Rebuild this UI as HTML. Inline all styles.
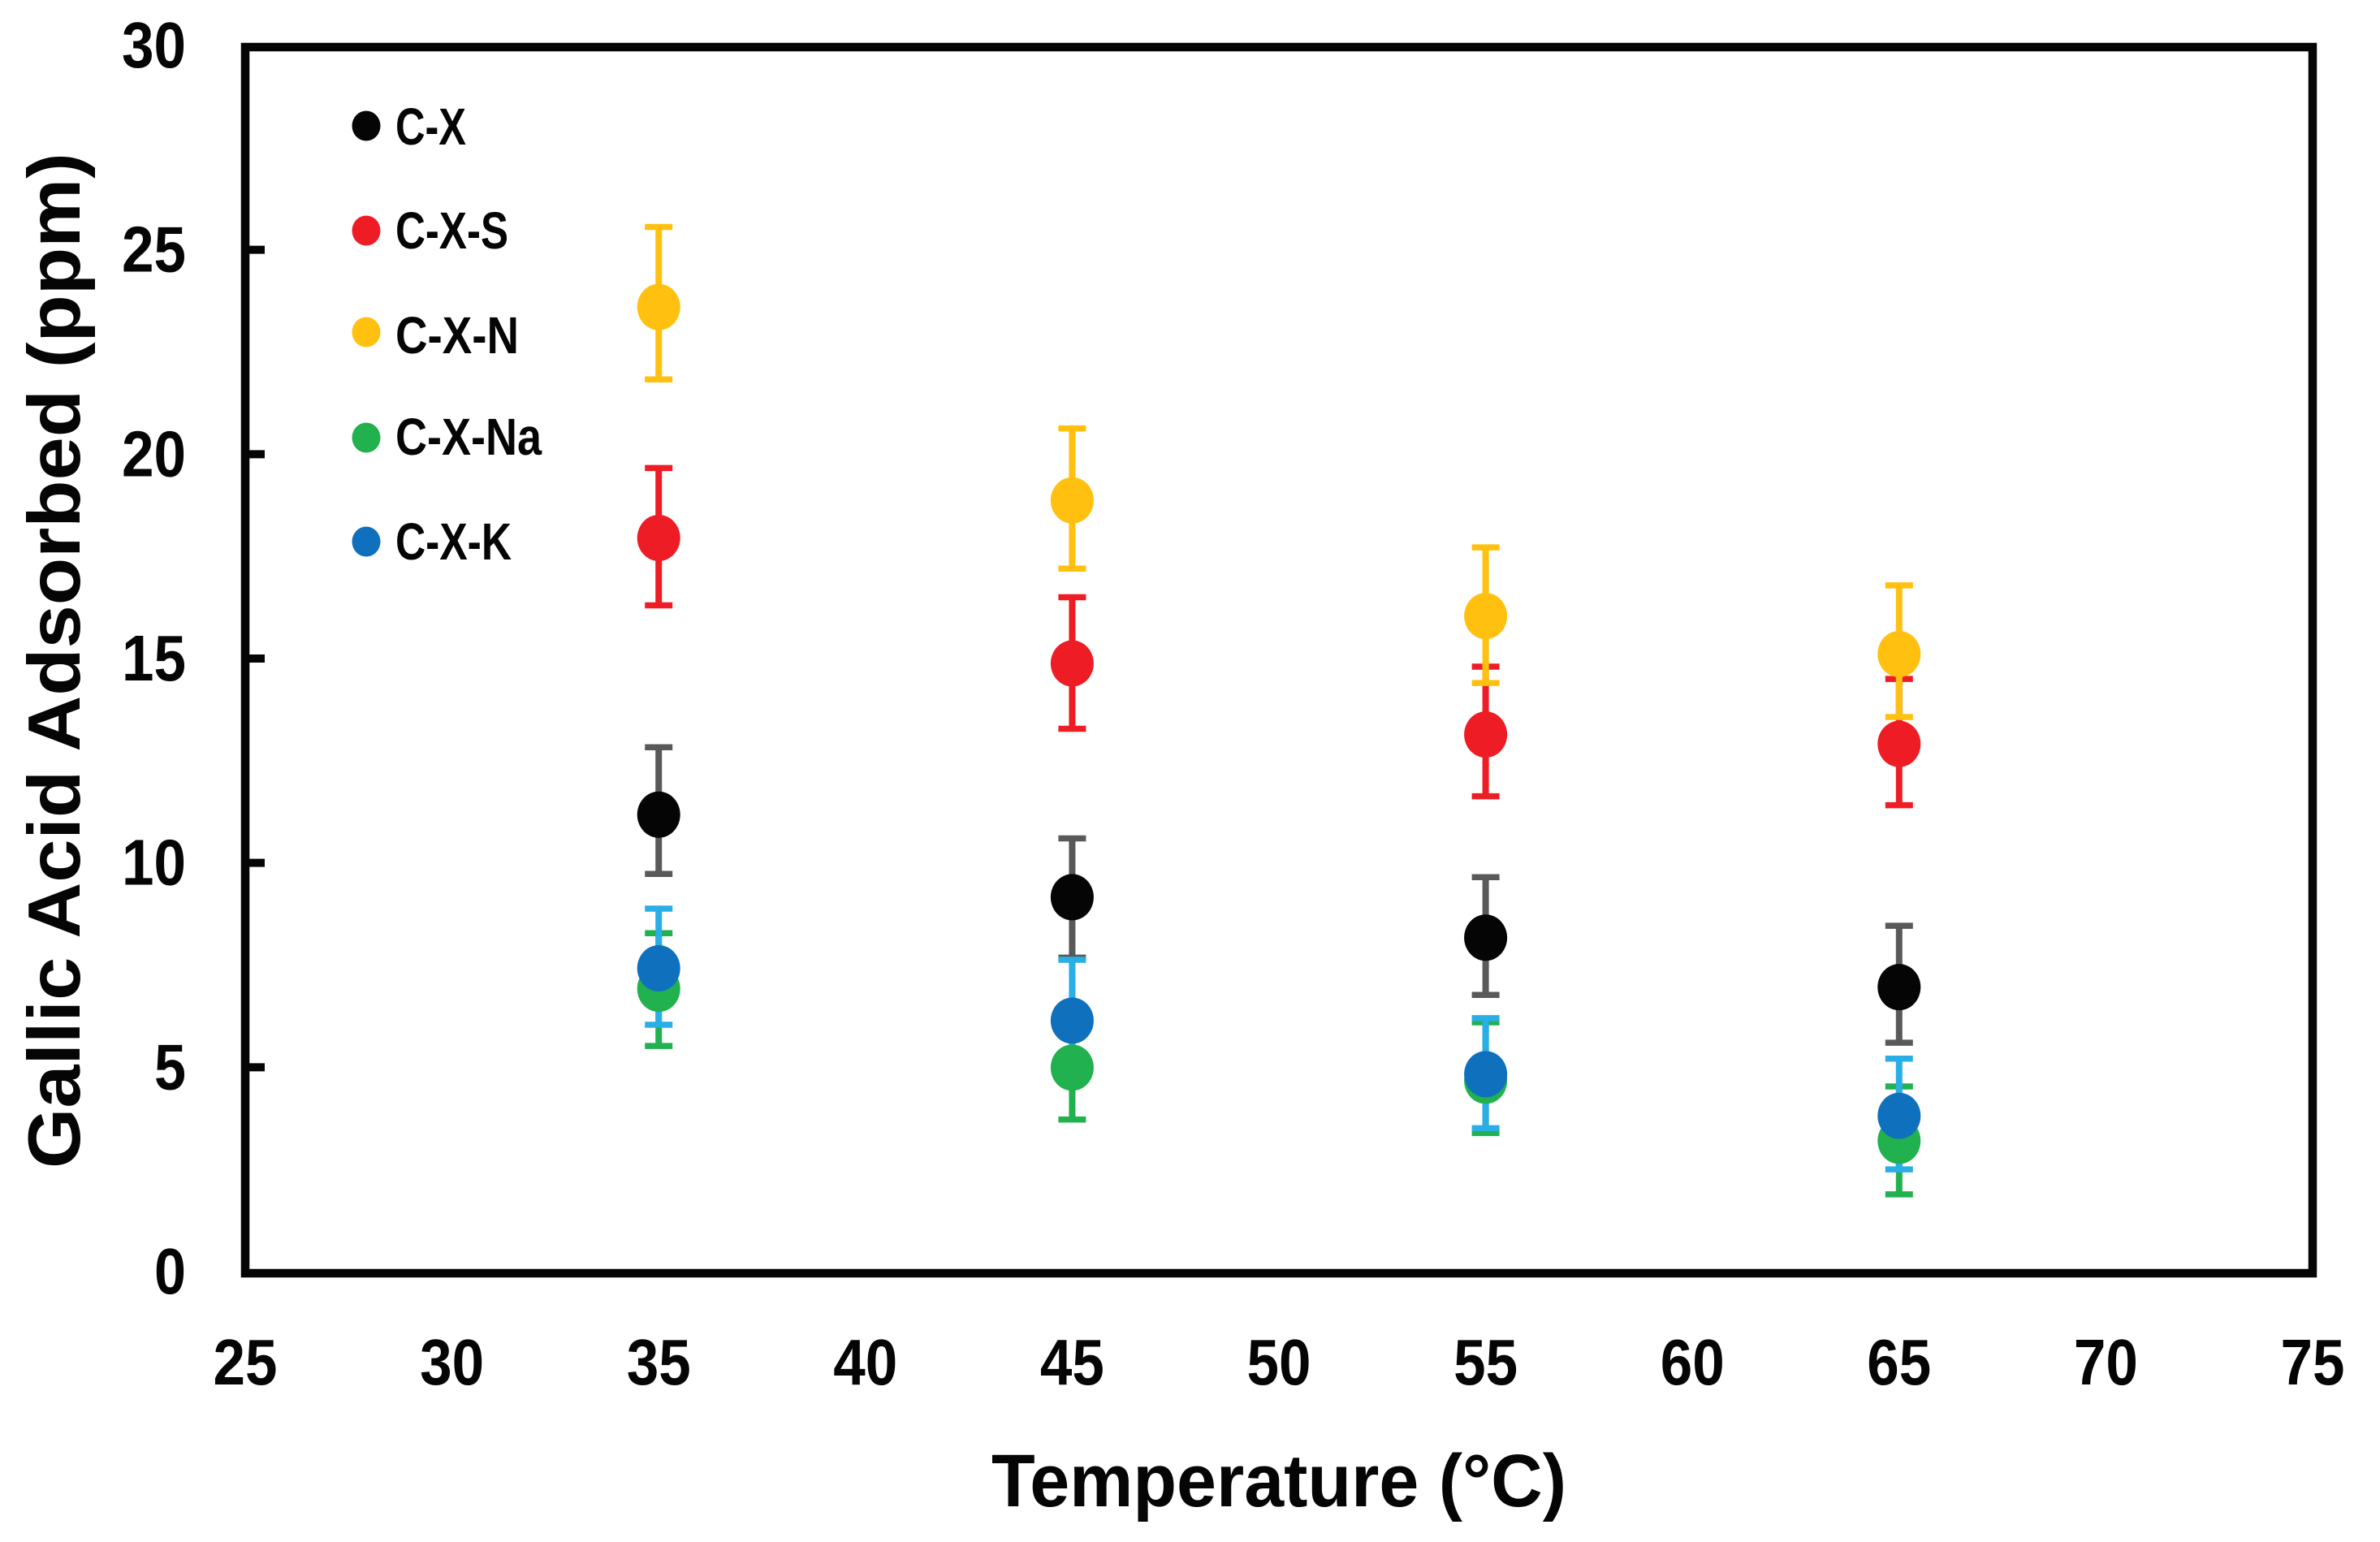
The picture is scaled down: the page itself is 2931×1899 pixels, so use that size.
<!DOCTYPE html>
<html lang="en">
<head>
<meta charset="utf-8">
<title>Gallic Acid Adsorbed vs Temperature</title>
<style>
html,body{margin:0;padding:0;background:#fff;}
svg{display:block;}
text{font-family:"Liberation Sans",sans-serif;font-weight:bold;fill:#050505;}
</style>
</head>
<body>
<svg id="chart" xmlns="http://www.w3.org/2000/svg" width="2931" height="1899" viewBox="0 0 2931 1899">
  <rect x="0" y="0" width="2931" height="1899" fill="#fff"/>
  <g id="ticks"></g>
  <g id="errors"></g>
  <g id="marks"></g>
  <rect x="302" y="58" width="2546" height="1510" fill="none" stroke="#050505" stroke-width="10.5"/>
  <g id="labels"></g>
  <text x="1221" y="1855" font-size="92" textLength="708" lengthAdjust="spacingAndGlyphs">Temperature (°C)</text>
  <text transform="translate(98,1439) rotate(-90)" font-size="91" textLength="1251" lengthAdjust="spacingAndGlyphs">Gallic Acid Adsorbed (ppm)</text>
  <g>
    <ellipse cx="451" cy="155" rx="17.5" ry="18.5" fill="#050505"/>
    <text x="487" y="178" font-size="64" textLength="87" lengthAdjust="spacingAndGlyphs">C-X</text>
    <ellipse cx="451" cy="284" rx="17.5" ry="18.5" fill="#EE1C25"/>
    <text x="487" y="306" font-size="64" textLength="139" lengthAdjust="spacingAndGlyphs">C-X-S</text>
    <ellipse cx="451" cy="409" rx="17.5" ry="18.5" fill="#FFC010"/>
    <text x="487" y="435" font-size="64" textLength="152" lengthAdjust="spacingAndGlyphs">C-X-N</text>
    <ellipse cx="451" cy="539" rx="17.5" ry="18.5" fill="#22B14F"/>
    <text x="487" y="560" font-size="64" textLength="180" lengthAdjust="spacingAndGlyphs">C-X-Na</text>
    <ellipse cx="451" cy="667" rx="17.5" ry="18.5" fill="#0F70BE"/>
    <text x="487" y="689" font-size="64" textLength="143" lengthAdjust="spacingAndGlyphs">C-X-K</text>
  </g>
</svg>
<script>
var temperatures = [35, 45, 55, 65];
var xTickLabels = [25, 30, 35, 40, 45, 50, 55, 60, 65, 70, 75];
var yTickLabels = [0, 5, 10, 15, 20, 25, 30];

var cxMean  = [11.22, 9.2, 8.21, 7.0];
var cxUpper = [12.87, 10.64, 9.69, 8.5];
var cxLower = [9.77, 7.72, 6.81, 5.64];

var cxsMean  = [17.99, 14.92, 13.18, 12.95];
var cxsUpper = [19.7, 16.54, 14.84, 14.54];
var cxsLower = [16.34, 13.32, 11.67, 11.45];

var cxnMean  = [23.64, 18.91, 16.08, 15.15];
var cxnUpper = [25.6, 20.67, 17.76, 16.83];
var cxnLower = [21.87, 17.24, 14.44, 13.61];

var cxnaMean  = [6.96, 5.03, 4.71, 3.24];
var cxnaUpper = [8.32, 6.36, 6.14, 4.57];
var cxnaLower = [5.56, 3.76, 3.43, 1.93];

var cxkMean  = [7.46, 6.18, 4.87, 3.85];
var cxkUpper = [8.92, 7.67, 6.24, 5.25];
var cxkLower = [6.08, 4.7, 3.55, 2.54];

var NS = 'http://www.w3.org/2000/svg';
function xScale(v) { return 302 + (v - 25) * (2848 - 302) / 50; }
function yScale(v) { return 1568 - v * (1568 - 58) / 30; }

function shape(parent, tag, attrs) {
  var el = document.createElementNS(NS, tag);
  for (var k in attrs) { el.setAttribute(k, attrs[k]); }
  parent.appendChild(el);
  return el;
}

var ticksG = document.getElementById('ticks');
var errorsG = document.getElementById('errors');
var marksG = document.getElementById('marks');
var labelsG = document.getElementById('labels');

yTickLabels.forEach(function (v) {
  if (v !== 0 && v !== 30) {
    var tick = shape(ticksG, 'line', { x1: 302, x2: 326, y1: yScale(v) - 2, y2: yScale(v) - 2, stroke: '#050505', 'stroke-width': 10 });
    
    
  }
  var lab = shape(labelsG, 'text', { x: 229, y: yScale(v) + 25, 'font-size': 80, 'text-anchor': 'end', textLength: String(v).length > 1 ? 79 : 39, lengthAdjust: 'spacingAndGlyphs' });
  lab.textContent = v;
  
  
});

xTickLabels.forEach(function (v) {
  var lab = shape(labelsG, 'text', { x: xScale(v), y: 1705, 'font-size': 80, 'text-anchor': 'middle', textLength: 79, lengthAdjust: 'spacingAndGlyphs' });
  lab.textContent = v;
  
  
});

function drawErrors(name, upper, lower, color) {
  temperatures.forEach(function (t, i) {
    var x = xScale(t);
    var yU = yScale(upper[i]);
    var yL = yScale(lower[i]);
    var g = shape(errorsG, 'g', {});
    
    
    shape(g, 'line', { x1: x, x2: x, y1: yU, y2: yL, stroke: color, 'stroke-width': 8 });
    shape(g, 'line', { x1: x - 17, x2: x + 17, y1: yU, y2: yU, stroke: color, 'stroke-width': 7.5 });
    shape(g, 'line', { x1: x - 17, x2: x + 17, y1: yL, y2: yL, stroke: color, 'stroke-width': 7.5 });
  });
}

function drawMarks(name, mean, color) {
  temperatures.forEach(function (t, i) {
    var pt = shape(marksG, 'ellipse', { cx: xScale(t), cy: yScale(mean[i]), rx: 26.5, ry: 28.5, fill: color });
    
    
  });
}

drawErrors('c-x', cxUpper, cxLower, '#595959');
drawErrors('c-x-s', cxsUpper, cxsLower, '#EE1C25');
drawErrors('c-x-n', cxnUpper, cxnLower, '#FFC010');
drawErrors('c-x-na', cxnaUpper, cxnaLower, '#22B14F');
drawErrors('c-x-k', cxkUpper, cxkLower, '#29AEE6');

drawMarks('c-x', cxMean, '#050505');
drawMarks('c-x-s', cxsMean, '#EE1C25');
drawMarks('c-x-n', cxnMean, '#FFC010');
drawMarks('c-x-na', cxnaMean, '#22B14F');
drawMarks('c-x-k', cxkMean, '#0F70BE');
</script>
</body>
</html>
